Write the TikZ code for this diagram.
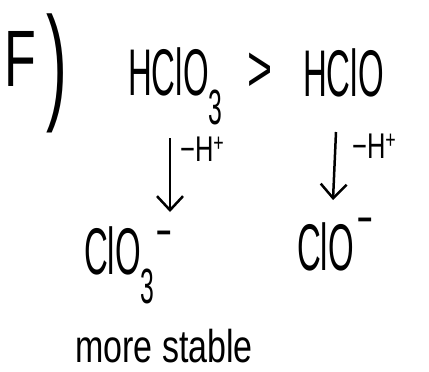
\documentclass[tikz,border=0pt]{standalone}
\usepackage{fontspec}
\setmainfont{Liberation Sans}
\usetikzlibrary{arrows.meta}
\tikzset{
  big/.style={font=\fontsize{55}{60}\selectfont, xscale=0.6, yscale=1.2, inner sep=0pt},
  lbl/.style={font=\fontsize{34}{38}\selectfont, xscale=0.75, yscale=1.05, inner sep=0pt},
  note/.style={font=\fontsize{40}{44}\selectfont, xscale=0.85, yscale=1.15, inner sep=0pt},
  arr/.style={line width=2.5pt, -{Straight Barb[length=14pt,width=26pt,line width=2.5pt]}}
}
\newcommand{\lowsub}[1]{\raisebox{-0.45em}{\scalebox{0.75}{#1}}}
\begin{document}
\begin{tikzpicture}[x=1pt,y=-1pt]
\useasboundingbox (0,0) rectangle (429,372);
% label
\node[font=\fontsize{80}{90}\selectfont, xscale=0.65, inner sep=0pt, anchor=base west] (f) at (4,86) {F\hspace{0.2em}\raisebox{-0.25em}{\scalebox{1.2}[1.6]{)}}};
% acids
\node[big, anchor=base west] (hclo3) at (128,95) {HClO\lowsub{3}};
\node[big, anchor=base west, xscale=1.3] (gt) at (247,91) {>};
\node[big, anchor=base west] (hclo) at (303,96) {HClO};
% arrows
\coordinate (a1s) at (170,138);
\coordinate (a1e) at (170,212);
\coordinate (a2s) at (336,132);
\coordinate (a2e) at (333,200);
\draw[arr] (a1s) -- (a1e);
\draw[arr] (a2s) -- (a2e);
\node[lbl, anchor=base west] (h1) at (180,161) {−H\textsuperscript{+}};
\node[lbl, anchor=base west] (h2) at (352,158) {−H\textsuperscript{+}};
% anions
\node[big, anchor=base west] (clo3) at (84,274) {ClO\lowsub{3}\hspace{0.05em}\raisebox{0.35em}{\scalebox{0.8}{−}}};
\node[big, anchor=base west] (clo) at (297,270) {ClO\hspace{0.1em}\raisebox{0.5em}{\scalebox{0.8}{−}}};
% note
\node[note, anchor=base west] (ms) at (75,362) {more stable};
\end{tikzpicture}
\end{document}
